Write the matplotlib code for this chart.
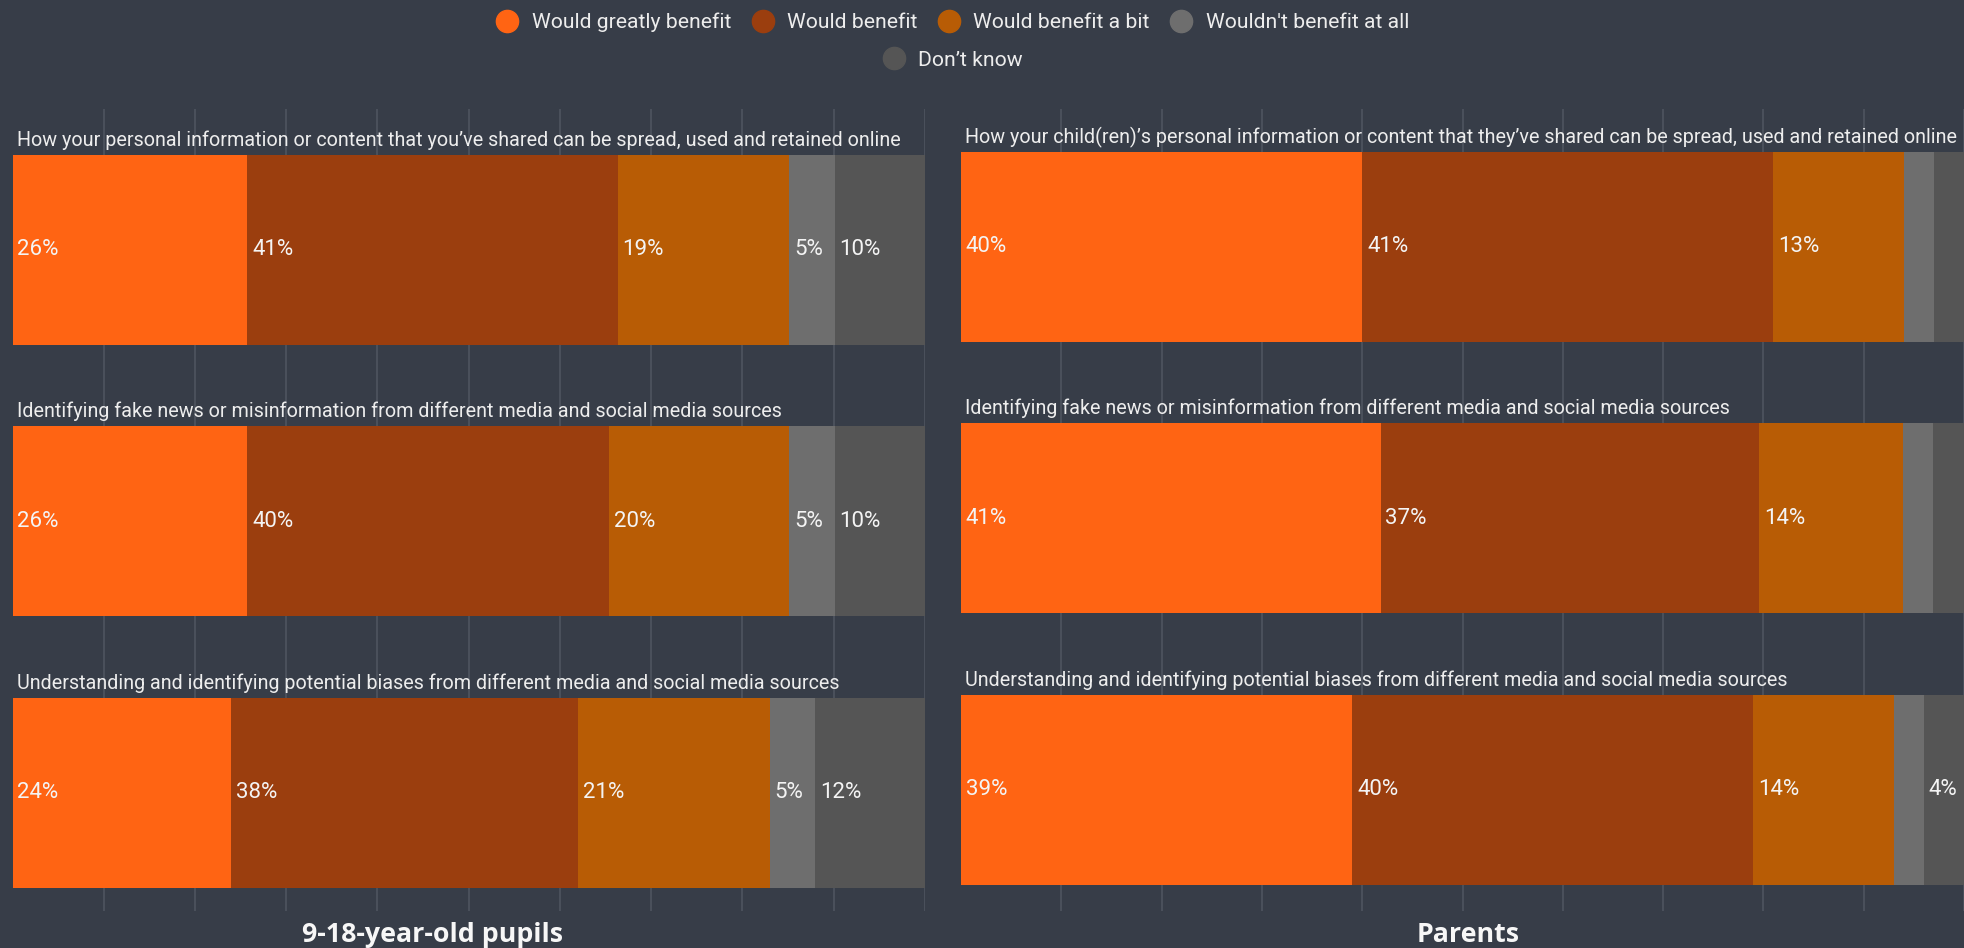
import numpy as np
import matplotlib
matplotlib.use('Agg')
import matplotlib.pyplot as plt
from matplotlib.lines import Line2D

# survey answers, percent per row
answers = ['Would greatly benefit', 'Would benefit', 'Would benefit a bit',
           "Wouldn't benefit at all", 'Don’t know']
colors = ['#FF6413', '#9B3E0E', '#B85C05', '#6E6E6E', '#555555']

pupil_questions = [
    'How your personal information or content that you’ve shared can be spread, used and retained online',
    'Identifying fake news or misinformation from different media and social media sources',
    'Understanding and identifying potential biases from different media and social media sources',
]
parent_questions = [
    'How your child(ren)’s personal information or content that they’ve shared can be spread, used and retained online',
    'Identifying fake news or misinformation from different media and social media sources',
    'Understanding and identifying potential biases from different media and social media sources',
]
pupils = [
    [26, 41, 19, 5, 10],
    [26, 40, 20, 5, 10],
    [24, 38, 21, 5, 12],
]
parents = [
    [40, 41, 13, 3, 3],
    [41, 37, 14, 3, 3],
    [39, 40, 14, 3, 4],
]

BG = '#373D48'
GRID = '#4A505B'
TXT = '#EDEDED'

plt.rcParams['font.family'] = ['Roboto', 'DejaVu Sans']

fig = plt.figure(figsize=(19.64, 9.48), dpi=100, facecolor=BG)

ax_pup = fig.add_axes([12.5 / 1964, 1 - 911 / 948, 912.5 / 1964, 802 / 948])
ax_par = fig.add_axes([961 / 1964, 1 - 911 / 948, 1003 / 1964, 802 / 948])


def draw_panel(ax, questions, rows, shift=0.0, fit=False):
    ax.set_facecolor(BG)
    ax.set_xlim(0, 100)
    ax.set_ylim(2.435 + shift, -0.519 + shift)
    for x in range(10, 101, 10):
        ax.axvline(x, color=GRID, lw=1.5, zorder=0)
    renderer = fig.canvas.get_renderer()
    ax_w = ax.get_window_extent(renderer).width
    for i, vals in enumerate(rows):
        vals = np.array(vals, dtype=float)
        # stacked to 100% of the row total
        share = vals / vals.sum() * 100
        left = 0
        for j, (v, s) in enumerate(zip(vals, share)):
            ax.barh(i, s, left=left, height=0.70, color=colors[j], zorder=2)
            if v >= 4:
                ax.annotate(f'{v:.0f}%', (left, i), xytext=(3.5, 0),
                            textcoords='offset points', va='center', ha='left',
                            color='#F4F4F4', fontsize=16, zorder=3)
            left += s
        t = ax.annotate(questions[i], (0, i - 0.35), xytext=(3, 6.5),
                        textcoords='offset points', va='baseline', ha='left',
                        color=TXT, fontsize=14.2, zorder=3, annotation_clip=False)
        if fit:
            # shrink long labels so they stay inside the panel
            w = t.get_window_extent(renderer).width
            if w > ax_w - 25:
                t.set_fontsize(14.2 * (ax_w - 25) / w)
    ax.set_xticks([])
    ax.set_yticks([])
    for sp in ax.spines.values():
        sp.set_visible(False)


draw_panel(ax_pup, pupil_questions, pupils, fit=True)
draw_panel(ax_par, parent_questions, parents, shift=0.011)

fig.text(432 / 1964, 1 - 942 / 948, '9-18-year-old pupils', ha='center', va='baseline',
         fontsize=19.3, fontweight='bold', family='Open Sans', color='#F7F7F7')
fig.text(1468 / 1964, 1 - 942 / 948, 'Parents', ha='center', va='baseline',
         fontsize=19.3, fontweight='bold', family='Open Sans', color='#F7F7F7')

handles = [Line2D([], [], marker='o', linestyle='', markersize=16, color=c) for c in colors]
leg_kw = dict(frameon=False, fontsize=15.2, labelcolor=TXT, handlelength=1.0,
              handletextpad=0.65, columnspacing=1.0, borderpad=0, loc='center')
fig.legend(handles[:4], answers[:4], ncol=4, bbox_to_anchor=(953 / 1964, 1 - 22.5 / 948), **leg_kw)
fig.legend(handles[4:], answers[4:], ncol=1, bbox_to_anchor=(953 / 1964, 1 - 60 / 948), **leg_kw)

fig.savefig('out.png', dpi=100, facecolor=BG)
